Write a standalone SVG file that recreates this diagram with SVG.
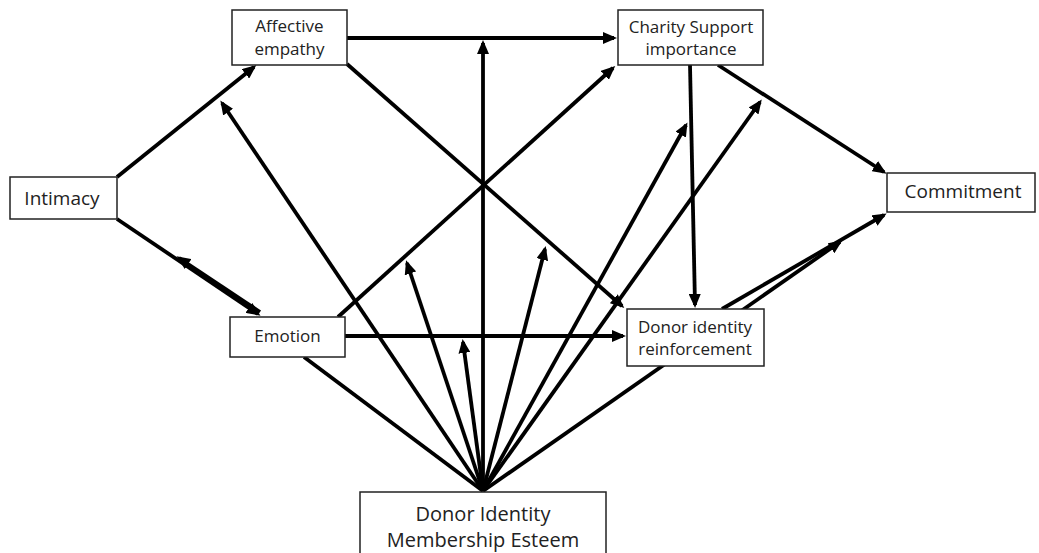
<svg xmlns="http://www.w3.org/2000/svg" width="1039" height="553" viewBox="0 0 1039 553">
  <style>
    .node rect { fill: #ffffff; stroke: #222222; stroke-width: 1.5; }
    .node text { font-family: "Open Sans", "Liberation Sans", sans-serif; fill: #222222; text-anchor: middle; }
    .sm { font-size: 17px; }
    .md { font-size: 19px; }
    .lg { font-size: 20px; }
    #edges line { stroke: #000000; stroke-width: 3.8; fill: none; }
    #edges line.arrow { marker-end: url(#head); }
  </style>
  <defs>
    <marker id="head" markerUnits="userSpaceOnUse" markerWidth="14" markerHeight="12" viewBox="0 0 14 12" refX="11" refY="6" orient="auto">
      <path d="M0,0 L14,6 L0,12 z" fill="#000000"/>
    </marker>
  </defs>

  <rect width="1039" height="553" fill="#ffffff"/>

  <!-- connectors -->
  <g id="edges">
    <!-- Affective empathy -> Charity Support importance -->
    <line class="arrow" x1="347" y1="38" x2="614" y2="38"/>
    <!-- Intimacy -> Affective empathy -->
    <line class="arrow" x1="117" y1="177" x2="254" y2="67"/>
    <!-- Intimacy <-> Emotion (two overlapping paths) -->
    <line class="arrow" x1="117" y1="219" x2="258" y2="314"/>
    <line class="arrow" x1="260" y1="312" x2="179" y2="258"/>
    <!-- Affective empathy -> Donor identity reinforcement -->
    <line class="arrow" x1="347" y1="64" x2="622" y2="306"/>
    <!-- Emotion -> Charity Support importance -->
    <line class="arrow" x1="338" y1="317" x2="613" y2="68"/>
    <!-- Emotion -> Donor identity reinforcement -->
    <line class="arrow" x1="345" y1="336" x2="623" y2="336"/>
    <!-- Charity Support importance -> Donor identity reinforcement -->
    <line class="arrow" x1="690" y1="65" x2="695" y2="305"/>
    <!-- Charity Support importance -> Commitment -->
    <line class="arrow" x1="718" y1="65" x2="884" y2="172"/>
    <!-- Donor identity reinforcement -> Commitment -->
    <line class="arrow" x1="722" y1="309" x2="884" y2="215"/>

    <!-- Donor Identity Membership Esteem: moderating paths -->
    <line x1="483" y1="491" x2="304" y2="357"/>
    <line class="arrow" x1="483" y1="491" x2="222" y2="103"/>
    <line class="arrow" x1="483" y1="491" x2="407" y2="263"/>
    <line class="arrow" x1="483" y1="491" x2="463" y2="342"/>
    <line class="arrow" x1="483" y1="491" x2="483" y2="43"/>
    <line class="arrow" x1="483" y1="491" x2="545" y2="249"/>
    <line class="arrow" x1="483" y1="491" x2="686" y2="125"/>
    <line class="arrow" x1="483" y1="491" x2="760" y2="102"/>
    <line class="arrow" x1="483" y1="491" x2="840" y2="242"/>
  </g>

  <!-- nodes -->
  <g id="affective-empathy" class="node">
    <rect x="232" y="10" width="115" height="55"/>
    <text class="sm" x="289.5" y="32">Affective</text>
    <text class="sm" x="289.5" y="55">empathy</text>
  </g>
  <g id="charity-support-importance" class="node">
    <rect x="618" y="10" width="145" height="55"/>
    <text class="sm" x="691" y="33">Charity Support</text>
    <text class="sm" x="691" y="55">importance</text>
  </g>
  <g id="intimacy" class="node">
    <rect x="10" y="177" width="107" height="42"/>
    <text class="md" x="62" y="205">Intimacy</text>
  </g>
  <g id="commitment" class="node">
    <rect x="887" y="173" width="148" height="39"/>
    <text class="md" x="963" y="198">Commitment</text>
  </g>
  <g id="emotion" class="node">
    <rect x="230" y="317" width="115" height="40"/>
    <text class="sm" x="287.5" y="342">Emotion</text>
  </g>
  <g id="donor-identity-reinforcement" class="node">
    <rect x="627" y="309" width="137" height="57"/>
    <text class="sm" x="695" y="333">Donor identity</text>
    <text class="sm" x="695" y="355">reinforcement</text>
  </g>
  <g id="donor-identity-membership-esteem" class="node">
    <rect x="360" y="492" width="246" height="66"/>
    <text class="lg" x="483" y="521">Donor Identity</text>
    <text class="lg" x="483" y="547">Membership Esteem</text>
  </g>
</svg>
